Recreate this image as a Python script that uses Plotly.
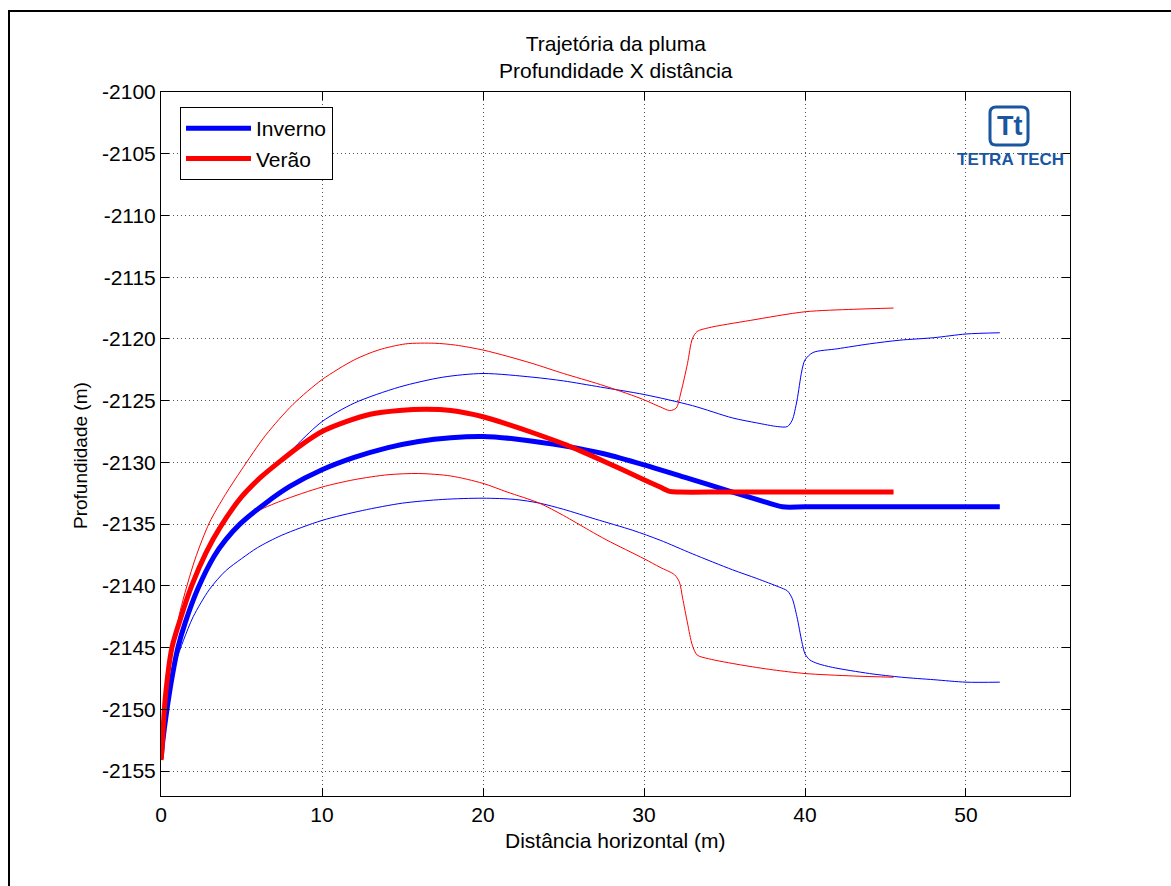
import plotly.graph_objects as go

# ---------------- data ----------------
inv_x = [0.0, 0.1, 0.37, 0.7, 1.05, 1.5, 2.3, 3.3, 4.0, 4.9, 6.5, 8.0, 10.0, 12.0, 14.1, 16.0,
         18.0, 20.0, 22.0, 25.2, 27.5, 30.0, 32.5, 35.5, 37.5, 38.6, 40.0, 45.0, 52.1]
inv_y = [-2154.0, -2152.7, -2150.0, -2147.3, -2145.0, -2143.0, -2140.2, -2137.6, -2136.3, -2135.0,
         -2133.3, -2131.95, -2130.6, -2129.6, -2128.8, -2128.3, -2128.0, -2127.9, -2128.1,
         -2128.7, -2129.3, -2130.2, -2131.2, -2132.4, -2133.2, -2133.6, -2133.6, -2133.6, -2133.6]

inv_up_x = [0.0, 0.05, 0.25, 0.68, 1.2, 1.9, 2.8, 3.7, 5.0, 6.2, 7.5, 8.5, 10.0, 12.0, 14.8, 17.5,
            20.0, 23.1, 25.0, 27.3, 30.0, 33.0, 35.5, 37.0, 38.3, 38.9, 39.2, 39.5, 39.8, 40.0,
            40.5, 42.0, 44.0, 45.9, 48.0, 50.0, 52.1]
inv_up_y = [-2154.0, -2153.5, -2149.4, -2145.1, -2142.8, -2140.1, -2137.4, -2135.3, -2132.9,
            -2131.3, -2129.9, -2128.5, -2126.7, -2125.2, -2123.9, -2123.1, -2122.8, -2123.1,
            -2123.4, -2123.9, -2124.5, -2125.4, -2126.4, -2126.8, -2127.1, -2127.1, -2126.6,
            -2125.0, -2122.6, -2121.7, -2121.1, -2120.8, -2120.4, -2120.1, -2119.9, -2119.6,
            -2119.5]

inv_lo_x = [0.0, 0.1, 0.3, 0.6, 0.9, 1.4, 2.0, 3.0, 4.0, 5.0, 6.0, 7.5, 10.0, 12.5, 15.0, 17.5,
            20.0, 22.0, 23.5, 25.0, 27.0, 29.3, 31.0, 33.0, 35.5, 37.0, 38.4, 38.9, 39.2, 39.5,
            39.8, 40.0, 40.3, 40.8, 41.7, 44.0, 46.0, 48.0, 50.0, 52.1]
inv_lo_y = [-2154.0, -2151.0, -2149.3, -2147.5, -2146.2, -2144.4, -2142.5, -2140.3, -2138.8,
            -2137.8, -2136.9, -2135.9, -2134.7, -2133.9, -2133.3, -2133.0, -2132.9, -2133.0,
            -2133.3, -2133.8, -2134.6, -2135.5, -2136.3, -2137.4, -2138.7, -2139.4, -2140.1,
            -2140.4, -2141.0, -2142.5, -2144.5, -2145.5, -2146.0, -2146.3, -2146.6, -2147.1,
            -2147.4, -2147.6, -2147.8, -2147.8]

ver_x = [0.0, 0.05, 0.25, 0.68, 1.2, 1.9, 2.8, 3.7, 5.0, 6.2, 7.5, 8.7, 10.0, 11.5, 13.0, 14.8,
         16.5, 18.0, 20.0, 21.5, 23.1, 25.2, 27.5, 30.0, 31.0, 31.6, 32.2, 35.0, 40.0, 45.5]
ver_y = [-2154.1, -2153.5, -2149.3, -2145.0, -2142.7, -2140.0, -2137.3, -2135.2, -2132.8, -2131.2,
         -2129.8, -2128.6, -2127.5, -2126.7, -2126.1, -2125.8, -2125.7, -2125.8, -2126.3, -2126.9,
         -2127.6, -2128.6, -2129.9, -2131.4, -2132.0, -2132.35, -2132.4, -2132.4, -2132.4, -2132.4]

ver_up_x = [0.0, 0.1, 0.3, 0.75, 1.2, 2.1, 3.0, 4.0, 5.0, 6.5, 8.2, 10.0, 12.0, 13.5, 15.2, 17.0,
            18.3, 20.0, 21.5, 23.1, 25.0, 27.3, 29.75, 31.0, 31.6, 32.0, 32.3, 32.7, 33.0, 33.3,
            34.0, 36.6, 40.0, 43.0, 45.5]
ver_up_y = [-2154.0, -2151.5, -2149.0, -2145.0, -2142.0, -2137.9, -2134.9, -2132.6, -2130.6,
            -2127.8, -2125.3, -2123.3, -2121.7, -2120.9, -2120.4, -2120.35, -2120.5, -2120.9,
            -2121.4, -2122.0, -2122.8, -2123.7, -2124.8, -2125.5, -2125.8, -2125.6, -2124.3,
            -2122.0, -2120.0, -2119.4, -2119.1, -2118.5, -2117.8, -2117.6, -2117.5]

ver_lo_x = [0.0, 0.1, 0.37, 1.05, 1.5, 2.3, 3.3, 4.5, 5.8, 7.5, 10.0, 12.0, 14.1, 16.0, 18.0, 20.0,
            21.5, 23.5, 25.0, 26.6, 27.7, 30.0, 31.0, 31.9, 32.2, 32.4, 32.7, 33.0, 33.3, 34.0,
            36.0, 38.0, 40.0, 43.0, 45.5]
ver_lo_y = [-2154.0, -2152.5, -2149.9, -2144.9, -2142.9, -2140.1, -2137.5, -2135.6, -2134.1,
            -2133.1, -2132.0, -2131.4, -2131.0, -2130.9, -2131.1, -2131.7, -2132.4, -2133.3,
            -2134.3, -2135.5, -2136.3, -2137.8, -2138.5, -2139.1, -2139.7, -2141.0, -2143.0,
            -2144.8, -2145.6, -2145.9, -2146.4, -2146.8, -2147.1, -2147.3, -2147.4]

series_names = ["Inverno", "Verão"]
x_ticks = [0, 10, 20, 30, 40, 50]
x_tick_labels = ["0", "10", "20", "30", "40", "50"]
y_ticks = [-2155, -2150, -2145, -2140, -2135, -2130, -2125, -2120, -2115, -2110, -2105, -2100]
y_tick_labels = ["-2155", "-2150", "-2145", "-2140", "-2135", "-2130", "-2125", "-2120",
                 "-2115", "-2110", "-2105", "-2100"]

# ---------------- layout geometry ----------------
W, H = 1171, 886
L, R, T, B = 161, 1070, 92, 796
PW, PH = R - L, B - T


def px(xp):
    return (xp - L) / PW


def py(yp):
    return 1 - (yp - T) / PH


FONT = "Liberation Sans, Arial, sans-serif"
BLUE = "#0000ff"
RED = "#ff0000"
LOGO = "#1a56a0"
SMOOTH = 0.8

fig = go.Figure()

for xs, ys in [(inv_up_x, inv_up_y), (inv_lo_x, inv_lo_y)]:
    fig.add_trace(go.Scatter(x=xs, y=ys, mode="lines",
                             line=dict(color=BLUE, width=1, shape="spline", smoothing=SMOOTH),
                             showlegend=False, hoverinfo="skip"))
for xs, ys in [(ver_up_x, ver_up_y), (ver_lo_x, ver_lo_y)]:
    fig.add_trace(go.Scatter(x=xs, y=ys, mode="lines",
                             line=dict(color=RED, width=1, shape="spline", smoothing=SMOOTH),
                             showlegend=False, hoverinfo="skip"))

fig.add_trace(go.Scatter(x=inv_x, y=inv_y, mode="lines", name=series_names[0],
                         line=dict(color=BLUE, width=5, shape="spline", smoothing=SMOOTH)))
fig.add_trace(go.Scatter(x=ver_x, y=ver_y, mode="lines", name=series_names[1],
                         line=dict(color=RED, width=5, shape="spline", smoothing=SMOOTH)))

axis_common = dict(
    showline=True, linecolor="black", linewidth=1, mirror="ticks",
    ticks="inside", ticklen=8, tickcolor="black", tickwidth=1,
    showgrid=True, gridcolor="#555555", griddash="1px,3px", gridwidth=1,
    zeroline=False, tickfont=dict(family=FONT, size=21, color="black"),
)

fig.update_xaxes(range=[0, 56.46], tickvals=x_ticks, ticktext=x_tick_labels, **axis_common)
fig.update_yaxes(range=[-2157.02, -2100], tickvals=y_ticks, ticktext=y_tick_labels,
                 **axis_common)

annotations = [
    dict(text="Trajetória da pluma<br>Profundidade X distância", x=0.5, y=py(57),
         xref="paper", yref="paper", showarrow=False, xanchor="center", yanchor="middle",
         font=dict(family=FONT, size=21, color="black")),
    dict(text="Distância horizontal (m)", x=0.5, y=py(840), xref="paper", yref="paper",
         showarrow=False, xanchor="center", yanchor="middle",
         font=dict(family=FONT, size=21, color="black")),
    dict(text="Profundidade (m)", x=px(80), y=py(456), xref="paper", yref="paper",
         showarrow=False, xanchor="center", yanchor="middle", textangle=-90,
         font=dict(family=FONT, size=19, color="black")),
    dict(text="<b>Tt</b>", x=px(1009), y=py(126), xref="paper", yref="paper",
         showarrow=False, xanchor="center", yanchor="middle",
         font=dict(family=FONT, size=27, color=LOGO)),
    dict(text="<b>TETRA TECH</b>", x=px(1010), y=py(159), xref="paper", yref="paper",
         showarrow=False, xanchor="center", yanchor="middle",
         font=dict(family=FONT, size=17, color=LOGO)),
]

# rounded square of the logo
x0, x1, y0, y1, r = px(990), px(1028), py(107), py(145), 6
rx, ry = r / PW, r / PH
path = (f"M {x0+rx},{y0} L {x1-rx},{y0} Q {x1},{y0} {x1},{y0-ry} "
        f"L {x1},{y1+ry} Q {x1},{y1} {x1-rx},{y1} L {x0+rx},{y1} Q {x0},{y1} {x0},{y1+ry} "
        f"L {x0},{y0-ry} Q {x0},{y0} {x0+rx},{y0} Z")

shapes = [
    dict(type="path", path=path, xref="paper", yref="paper",
         line=dict(color=LOGO, width=3), fillcolor="rgba(0,0,0,0)"),
    # outer frame
    dict(type="rect", xref="paper", yref="paper", x0=px(9), x1=px(1180), y0=py(11), y1=py(900),
         line=dict(color="black", width=2), fillcolor="rgba(0,0,0,0)", layer="below"),
]

fig.update_layout(
    width=W, height=H,
    margin=dict(l=L, r=W - R, t=T, b=H - B, pad=0),
    paper_bgcolor="white", plot_bgcolor="white",
    font=dict(family=FONT, size=20, color="black"),
    annotations=annotations, shapes=shapes,
    legend=dict(x=px(180), y=py(107), xanchor="left", yanchor="top",
                bgcolor="white", bordercolor="black", borderwidth=1,
                font=dict(family=FONT, size=21, color="black"),
                itemwidth=65, tracegroupgap=0),
    showlegend=True,
)

fig.write_html("out.html")
